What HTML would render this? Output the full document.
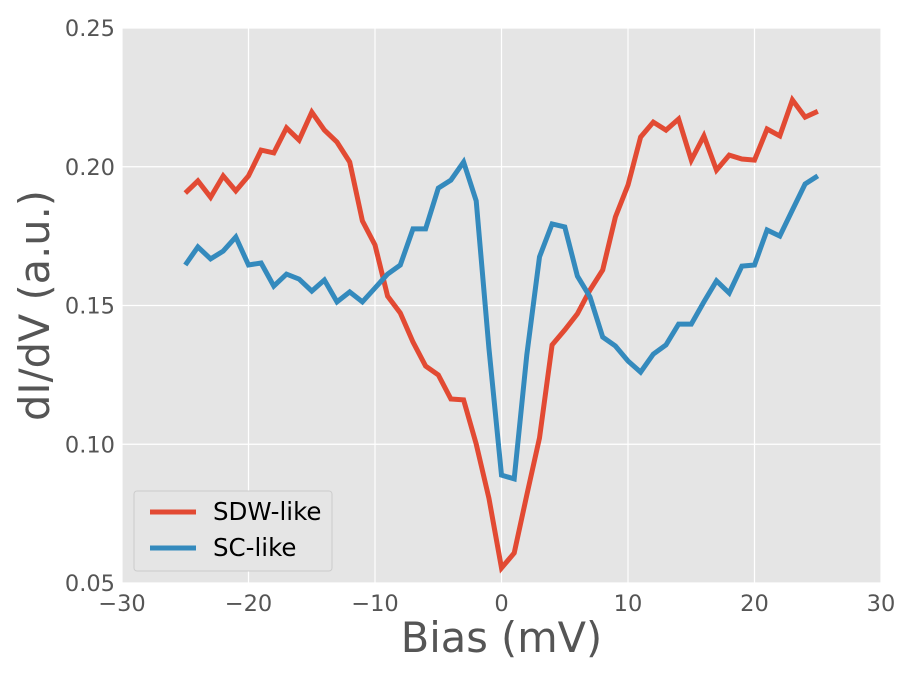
<!DOCTYPE html>
<html><head><meta charset="utf-8"><style>
html,body{margin:0;padding:0;background:#fff;}
svg{display:block;font-family:"DejaVu Sans","Liberation Sans",sans-serif;}
</style></head><body>
<svg id="chart" width="911" height="676"></svg>
<script>
const xTicks=[-30,-20,-10,0,10,20,30];
const yTicks=[0.05,0.10,0.15,0.20,0.25];
const yTickLabels=["0.05","0.10","0.15","0.20","0.25"];
const bias=[];for(let i=-25;i<=25;i++)bias.push(i);
const sdw=[0.1905,0.1949,0.189,0.1967,0.1913,0.1967,0.206,0.205,0.214,0.2096,0.2197,0.2132,0.2089,0.2017,0.1805,0.1718,0.1534,0.1473,0.1368,0.1282,0.125,0.1163,0.116,0.1001,0.0806,0.0554,0.0608,0.0817,0.1023,0.1358,0.1412,0.147,0.1556,0.1628,0.1819,0.1934,0.2107,0.2161,0.2132,0.2172,0.2024,0.2111,0.1988,0.2042,0.2028,0.2024,0.2136,0.2111,0.2241,0.2179,0.22];
const sc=[0.1646,0.1711,0.1668,0.1696,0.1747,0.1646,0.1653,0.157,0.1613,0.1595,0.1552,0.1592,0.1513,0.1549,0.1513,0.1563,0.1613,0.1646,0.1776,0.1776,0.1923,0.1952,0.2017,0.1877,0.1347,0.0889,0.0875,0.1322,0.1675,0.1794,0.1783,0.1606,0.1531,0.1386,0.1354,0.13,0.126,0.1325,0.1358,0.1433,0.1433,0.1513,0.1589,0.1545,0.1642,0.1646,0.1772,0.175,0.1844,0.1938,0.1967];
const L=122,R=881,T=28,B=583;
const xs=v=>L+(v+30)/60*(R-L);
const ys=v=>B-(v-0.05)/0.2*(B-T);
const NS="http://www.w3.org/2000/svg";
const svg=document.getElementById('chart');
function mk(tag,attrs,parent){const e=document.createElementNS(NS,tag);for(const k in attrs)e.setAttribute(k,attrs[k]);(parent||svg).appendChild(e);return e;}
const bg=mk('rect',{x:L,y:T,width:R-L,height:B-T,fill:'#e5e5e5'});


xTicks.forEach(t=>{
  const g=mk('line',{x1:xs(t),x2:xs(t),y1:T,y2:B,stroke:'#fff','stroke-width':1.2});
  
  
  const tx=mk('text',{x:xs(t),y:B+28,'text-anchor':'middle','font-size':22.5,fill:'#555'});
  tx.textContent=(t<0?'\u2212'+(-t):t);
  
  
});
yTicks.forEach((t,i)=>{
  const g=mk('line',{x1:L,x2:R,y1:ys(t),y2:ys(t),stroke:'#fff','stroke-width':1.2});
  
  
  const tx=mk('text',{x:L-7,y:ys(t)+8,'text-anchor':'end','font-size':22.5,fill:'#555'});
  tx.textContent=yTickLabels[i];
  
  
});
function line(data,color,name){
  const d=data.map((v,i)=>(i?'L':'M')+xs(bias[i]).toFixed(1)+','+ys(v).toFixed(1)).join('');
  const p=mk('path',{d:d,fill:'none',stroke:color,'stroke-width':5,'stroke-linejoin':'miter'});
  
  
}
line(sdw,'#e24a33','sdw-like-line');
line(sc,'#348abd','sc-like-line');
const lg=mk('g',{});


mk('rect',{x:134,y:491,width:198,height:80,rx:3,fill:'#e5e5e5',stroke:'#ccc','stroke-width':1},lg);
mk('line',{x1:150,x2:196,y1:512,y2:512,stroke:'#e24a33','stroke-width':5},lg);
mk('line',{x1:150,x2:196,y1:548,y2:548,stroke:'#348abd','stroke-width':5},lg);
const l1=mk('text',{x:213,y:520,'font-size':24.5,fill:'#000'},lg);l1.textContent='SDW-like';


const l2=mk('text',{x:213,y:556,'font-size':24.5,fill:'#000'},lg);l2.textContent='SC-like';


const xt=mk('text',{x:(L+R)/2,y:652,'text-anchor':'middle','font-size':41.5,fill:'#555'});
xt.textContent='Bias (mV)';


const yt=mk('text',{x:0,y:0,'text-anchor':'middle','font-size':41.5,fill:'#555',transform:'translate(49,'+((T+B)/2)+') rotate(-90)'});
yt.textContent='dI/dV (a.u.)';


</script>
</body></html>
